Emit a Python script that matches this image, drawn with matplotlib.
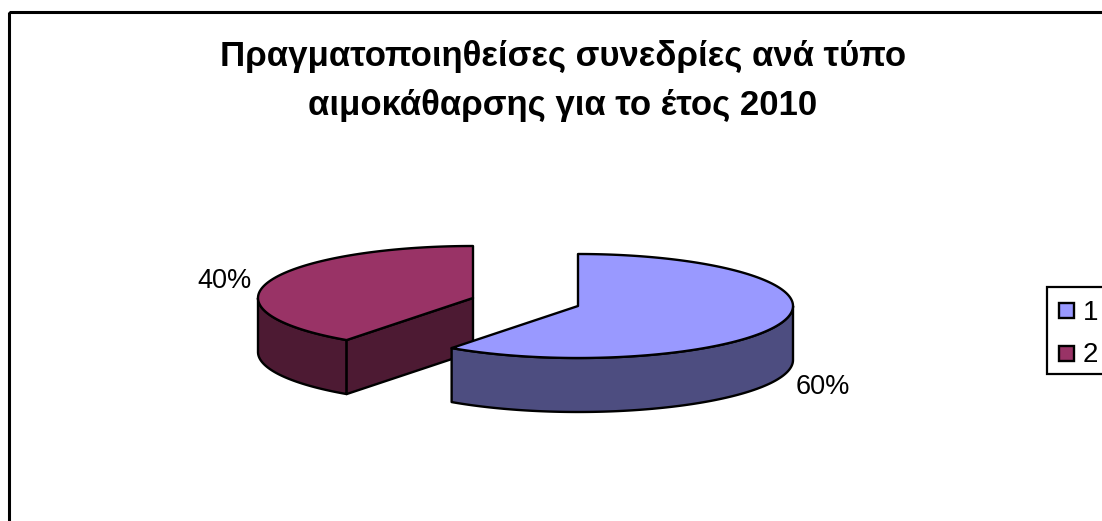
import numpy as np
import matplotlib
matplotlib.use("Agg")
import matplotlib.pyplot as plt
from matplotlib.patches import Polygon, Rectangle

plt.rcParams['font.family'] = ['Liberation Sans', 'DejaVu Sans']

title = "Πραγματοποιηθείσες συνεδρίες ανά τύπο\nαιμοκάθαρσης για το έτος 2010"
categories = ["1", "2"]
values = [60, 40]
pct_labels = ["60%", "40%"]
top_colors = ["#9999FF", "#993366"]
side_colors = ["#4D4D80", "#4D1A33"]

W, H = 1102, 521
fig = plt.figure(figsize=(W / 100, H / 100), dpi=100)
ax = fig.add_axes([0, 0, 1, 1])
ax.set_xlim(0, W)
ax.set_ylim(H, 0)
ax.axis("off")

LW = 1.7
rx, ry, depth = 215, 52, 54


def rim(cx, cy, a0, a1):
    # points on the ellipse, angles in degrees, counted clockwise from 12 o'clock
    t = np.radians(np.linspace(a0, a1, 200))
    return np.column_stack([cx + rx * np.sin(t), cy - ry * np.cos(t)])


def draw_slice(cx, cy, a0, a1, top, side, z):
    # outer wall: only the part of the rim on the front half shows
    lo, hi = max(a0, 90), min(a1, 270)
    if hi > lo:
        edge = rim(cx, cy, lo, hi)
        wall = np.vstack([edge, (edge + [0, depth])[::-1]])
        ax.add_patch(Polygon(wall, fc=side, ec="black", lw=LW, joinstyle="round", zorder=z))
    # cut face from the centre to the start of the slice, seen when it points forward
    if 90 < a0 < 270:
        start = rim(cx, cy, a0, a0)[0]
        cut = [[cx, cy], start, start + [0, depth], [cx, cy + depth]]
        ax.add_patch(Polygon(cut, fc=side, ec="black", lw=LW, joinstyle="round", zorder=z))
    outline = np.vstack([[[cx, cy]], rim(cx, cy, a0, a1)])
    ax.add_patch(Polygon(outline, fc=top, ec="black", lw=LW, joinstyle="round", zorder=z + 0.5))


# slices run clockwise from 12 o'clock and are pulled apart sideways
centers = [(578, 306), (473, 298)]
slice_z = [4, 2]
angles = np.cumsum([0] + values) / sum(values) * 360
for i in range(len(values)):
    draw_slice(centers[i][0], centers[i][1], angles[i], angles[i + 1],
               top_colors[i], side_colors[i], slice_z[i])

ax.text(563, 81, title, ha="center", va="center", fontsize=25, fontweight="bold",
        linespacing=1.58, color="black")

ax.text(823, 387.5, pct_labels[0], ha="center", va="center", fontsize=19.5)
ax.text(224, 280.5, pct_labels[1], ha="center", va="center", fontsize=19.5)

# outer frame runs off the right and bottom edges
ax.add_patch(Rectangle((9, 12), W + 20, H + 20, fc="none", ec="black", lw=2.2))

# legend box
ax.add_patch(Rectangle((1047, 287), 80, 87, fc="white", ec="black", lw=1.6, zorder=5))
for i, name in enumerate(categories):
    y = [311, 354][i]
    ax.add_patch(Rectangle((1058.5, y - 8), 15, 15, fc=top_colors[i], ec="black", lw=1.7, zorder=6))
    ax.text(1083, y + 1.5, name, ha="left", va="center", fontsize=20, zorder=6)

fig.savefig("out.png", dpi=100, facecolor="white")
